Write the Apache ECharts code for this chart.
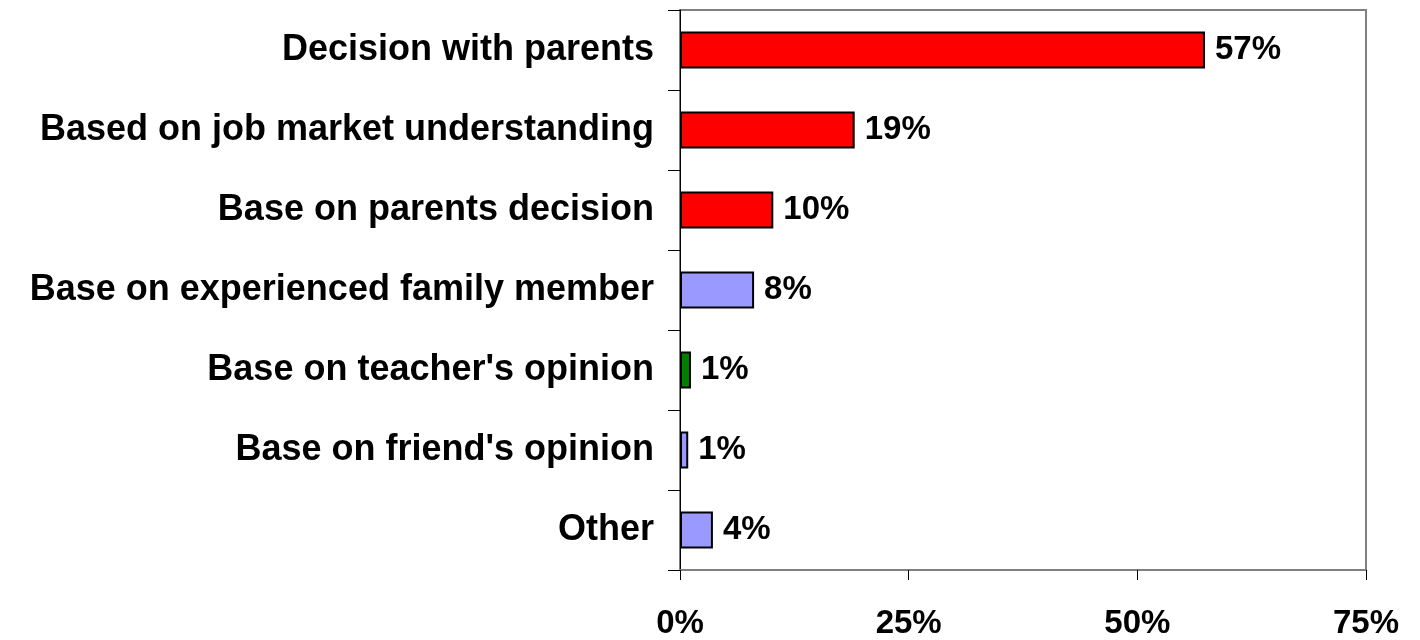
<!DOCTYPE html>
<html>
<head>
<meta charset="utf-8">
<script src="https://cdn.jsdelivr.net/npm/echarts@6/dist/echarts.min.js"></script>
<style>
  html, body { margin: 0; padding: 0; background: #ffffff; }
  #chart { width: 1420px; height: 640px; }
</style>
</head>
<body>
<div id="chart"></div>
<script>
// How students choose their field of study (share of respondents, %)
const categories = [
  'Decision with parents',
  'Based on job market understanding',
  'Base on parents decision',
  'Base on experienced family member',
  "Base on teacher's opinion",
  "Base on friend's opinion",
  'Other'
];
const shares = [57.4, 19.1, 10.2, 8.1, 1.2, 0.9, 3.6];
const barColors = ['#ff0000', '#ff0000', '#ff0000', '#9999ff', '#008000', '#9999ff', '#9999ff'];
const xTicks = [0, 25, 50, 75];

const FONT = '"Liberation Sans", Arial, sans-serif';

const chart = echarts.init(document.getElementById('chart'), null, { renderer: 'canvas' });

chart.setOption({
  animation: false,
  backgroundColor: '#ffffff',
  grid: {
    left: 680, right: 54, top: 10, bottom: 68,
    show: true, borderColor: '#808080', borderWidth: 2, backgroundColor: 'transparent'
  },
  xAxis: {
    type: 'value',
    min: xTicks[0],
    max: xTicks[xTicks.length - 1],
    interval: 25,
    splitLine: { show: false },
    axisLine: { show: true, lineStyle: { color: '#808080', width: 2 } },
    axisTick: { show: true, length: 10, lineStyle: { color: '#000000', width: 1 } },
    axisLabel: {
      margin: 37,
      color: '#000000',
      fontFamily: FONT,
      fontWeight: 'bold',
      fontSize: 33,
      formatter: v => v + '%'
    }
  },
  yAxis: {
    type: 'category',
    data: categories,
    inverse: true,
    axisLine: { show: true, lineStyle: { color: '#000000', width: 1 } },
    axisTick: { show: true, length: 12, alignWithLabel: false, lineStyle: { color: '#000000', width: 1 } },
    axisLabel: {
      margin: 26,
      color: '#000000',
      fontFamily: FONT,
      fontWeight: 'bold',
      fontSize: 36
    }
  },
  series: [{
    type: 'bar',
    barWidth: 37,
    data: shares.map((v, i) => ({
      value: v,
      itemStyle: { color: barColors[i], borderColor: '#000000', borderWidth: 2 }
    })),
    label: {
      show: true,
      position: 'right',
      distance: 10,
      color: '#000000',
      fontFamily: FONT,
      fontWeight: 'bold',
      fontSize: 33,
      formatter: p => Math.round(p.value) + '%'
    }
  }]
});
</script>
</body>
</html>
